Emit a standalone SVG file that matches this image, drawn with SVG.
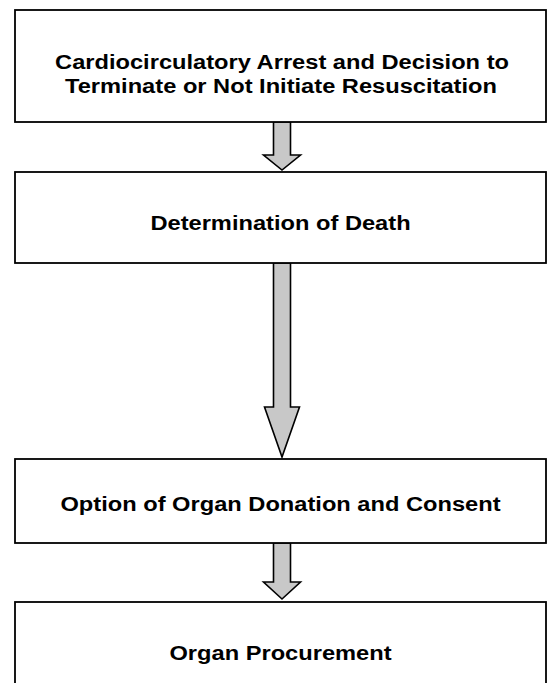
<svg xmlns="http://www.w3.org/2000/svg" width="552" height="683" viewBox="0 0 552 683">
<style>
.box{fill:#fff;stroke:#000;stroke-width:1.8}
.arr{fill:#c8c8c8;stroke:#000;stroke-width:1.6;stroke-linejoin:miter}
.t{font-family:"Liberation Sans",Arial,sans-serif;font-weight:bold;font-size:21px;text-anchor:middle;fill:#000}
</style>
<rect width="552" height="683" fill="#fff"/>
<g id="connectors">
<path class="arr" d="M273.5,122 V155 H263.5 L282,170 L300.5,155 H290.5 V122 Z"/>
<path class="arr" d="M273.5,263 V407 H264.5 L282,457 L299.5,407 H290.5 V263 Z"/>
<path class="arr" d="M273.5,543 V582 H263.5 L282,599 L300.5,582 H290.5 V543 Z"/>
</g>
<g id="n1"><rect class="box" x="15" y="10" width="531" height="112"/>
<text class="t" transform="translate(282,69) scale(1.127,1)">Cardiocirculatory Arrest and Decision to</text>
<text class="t" transform="translate(281,93) scale(1.127,1)">Terminate or Not Initiate Resuscitation</text></g>
<g id="n2"><rect class="box" x="15" y="172" width="531" height="91"/>
<text class="t" transform="translate(280.5,229.5) scale(1.127,1)">Determination of Death</text></g>
<g id="n3"><rect class="box" x="15" y="459" width="531" height="84"/>
<text class="t" transform="translate(280.5,510.5) scale(1.127,1)">Option of Organ Donation and Consent</text></g>
<g id="n4"><rect class="box" x="15" y="602" width="531" height="100"/>
<text class="t" transform="translate(280.5,659.5) scale(1.127,1)">Organ Procurement</text></g>
</svg>
